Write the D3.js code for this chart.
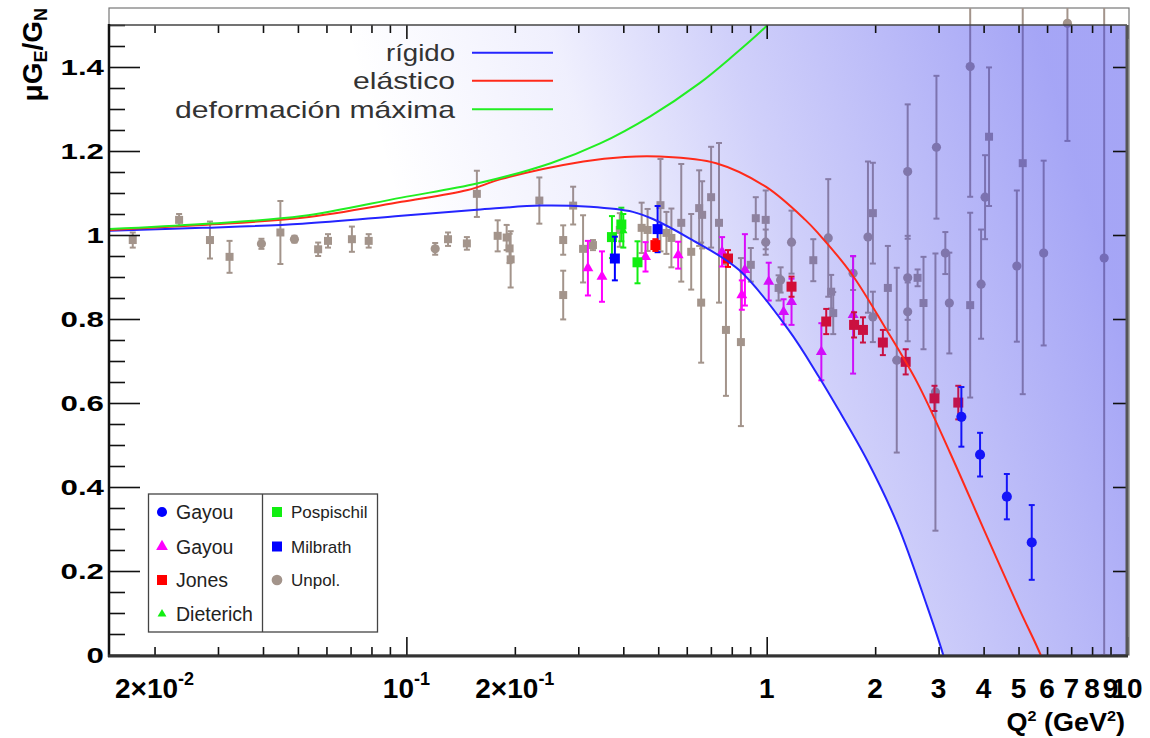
<!DOCTYPE html>
<html><head><meta charset="utf-8">
<script src="https://cdn.jsdelivr.net/npm/d3@7"></script>
<style>body{margin:0;background:#fff}svg{display:block}text{font-family:"Liberation Sans",Arial,sans-serif}</style>
</head><body>
<svg id="c" width="1150" height="738"></svg>
<script>
// ---------------- data ----------------
const xTickValues = [0.02, 0.1, 0.2, 1, 2, 3, 4, 5, 6, 7, 8, 9, 10];
const xTickLabels = ["2×10^-2", "10^-1", "2×10^-1", "1", "2", "3", "4", "5", "6", "7", "8", "9", "10"];
const yTickValues = [0, 0.2, 0.4, 0.6, 0.8, 1.0, 1.2, 1.4];
const yTickLabels = ["0", "0.2", "0.4", "0.6", "0.8", "1", "1.2", "1.4"];

const curveNames = ["rígido", "elástico", "deformación máxima"];
const seriesNames = ["Gayou", "Gayou", "Jones", "Dieterich", "Pospischil", "Milbrath", "Unpol."];

// theory curves [Q2, muGE/GM]
const curveRigido = [[0.0150,1.010],[0.0272,1.017],[0.0514,1.027],[0.0969,1.046],[0.157,1.060],[0.2355,1.070],[0.3234,1.067],[0.425,1.055],[0.483,1.038],[0.610,0.992],[0.837,0.917],[1.15,0.774],[1.39,0.665],[1.58,0.585],[1.91,0.46],[2.31,0.31],[2.79,0.115],[3.09,0.0],[3.25,-0.07]];
const curveElastico = [[0.0150,1.012],[0.0272,1.024],[0.0514,1.041],[0.0969,1.079],[0.148,1.107],[0.183,1.133],[0.310,1.175],[0.404,1.186],[0.504,1.187],[0.724,1.171],[0.994,1.115],[1.28,1.036],[1.39,1.004],[1.715,0.909],[2.127,0.781],[2.62,0.648],[3.23,0.481],[4.01,0.298],[5.04,0.107],[5.76,0.0],[6.1,-0.06]];
const curveDeformacion = [[0.0150,1.014],[0.0272,1.026],[0.0514,1.045],[0.0969,1.089],[0.158,1.123],[0.2515,1.171],[0.345,1.218],[0.474,1.282],[0.650,1.361],[0.802,1.425],[0.994,1.496],[1.08,1.53]];

// data points [Q2, value, error]
const gayouCircles = [[3.47,0.567,0.071],[3.91,0.477,0.052],[4.64,0.377,0.054],[5.44,0.268,0.089]];
const gayouTriangles = [[0.319,0.921,0.065],[0.349,0.901,0.060],[0.461,0.948,0.035],[0.568,0.952,0.032],[0.752,0.960,0.035],[0.870,0.917,0.085],[0.853,0.857,0.035],[1.013,0.889,0.045],[1.114,0.817,0.030],[1.172,0.841,0.055],[1.418,0.722,0.068],[1.737,0.810,0.140]];
const jones = [[0.491,0.976,0.014],[0.781,0.944,0.020],[1.172,0.877,0.024],[1.463,0.794,0.030],[1.748,0.786,0.030],[1.850,0.774,0.030],[2.101,0.744,0.030],[2.431,0.698,0.030],[2.922,0.611,0.030],[3.402,0.601,0.040]];
const dieterich = [[0.40,1.010,0.040]];
const pospischil = [[0.372,0.995,0.050],[0.395,1.025,0.040],[0.438,0.935,0.050]];
const milbrath = [[0.379,0.944,0.052],[0.498,1.014,0.055]];
const unpolSquares = [[0.0174,0.988,0.018],[0.0234,1.036,0.014],[0.0285,0.988,0.044],[0.0323,0.948,0.038],[0.0447,1.006,0.075],[0.0569,0.966,0.016],[0.0606,0.986,0.016],[0.0706,0.990,0.030],[0.0786,0.986,0.016],[0.1305,0.990,0.016],[0.1472,0.980,0.015],[0.1569,1.098,0.055],[0.1792,0.998,0.037],[0.1898,0.994,0.030],[0.1934,0.968,0.035],[0.1947,0.942,0.067],[0.2339,1.082,0.055],[0.2724,0.988,0.035],[0.2724,0.857,0.058],[0.2903,1.070,0.045],[0.3093,0.967,0.080],[0.3295,0.976,0.012],[0.3911,1.012,0.040],[0.4497,1.017,0.060],[0.4671,1.012,0.050],[0.5072,1.071,0.110],[0.5269,1.005,0.050],[0.5439,0.993,0.070],[0.5793,1.029,0.140],[0.6173,0.960,0.090],[0.6495,1.064,0.090],[0.6578,0.839,0.143],[0.6620,1.048,0.080],[0.7010,1.090,0.120],[0.7374,1.029,0.190],[0.7708,0.774,0.157],[0.8481,0.745,0.200],[0.9035,0.929,0.040],[0.9326,1.040,0.050],[0.9937,1.036,0.070],[1.079,0.874,0.030],[1.347,0.940,0.050],[1.510,0.865,0.040],[1.530,0.814,0.050],[1.971,1.052,0.120],[2.169,0.874,0.100],[2.623,0.898,0.020],[2.724,0.838,0.110],[3.671,0.833,0.220],[4.141,1.234,0.165],[5.136,1.171,0.550]];
const unpolCircles = [[0.0396,0.979,0.012],[0.0489,0.990,0.008],[0.1202,0.967,0.014],[0.9937,0.983,0.030],[1.093,0.893,0.030],[1.172,0.983,0.075],[1.482,0.993,0.140],[1.737,0.909,0.040],[1.910,0.995,0.180],[1.971,0.805,0.060],[2.296,0.702,0.220],[2.462,1.151,0.160],[2.462,0.898,0.100],[2.462,0.817,0.070],[2.940,0.626,0.330],[2.959,1.209,0.170],[3.132,0.957,0.050],[3.213,0.838,0.120],[3.671,1.401,0.310],[3.936,0.883,0.130],[4.037,1.090,0.100],[4.946,0.926,0.180],[5.871,0.957,0.220],[6.834,1.504,0.280],[8.643,0.945,0.950]];

// ---------------- layout ----------------
const svg = d3.select("#c");
const L = 109, R = 1127, T = 25, B = 655;
const x = d3.scaleLog().domain([0.01495, 10]).range([L, R]);
const y = d3.scaleLinear().domain([0, 1.5]).range([B, T]);

const defs = svg.append("defs");
defs.append("clipPath").attr("id", "clipFrame").append("rect").attr("x", L).attr("y", T).attr("width", R - L).attr("height", B - T);
defs.append("clipPath").attr("id", "clipData").append("rect").attr("x", L).attr("y", 8).attr("width", R - L).attr("height", B - 8);
const grad = defs.append("linearGradient").attr("id", "shade").attr("gradientUnits", "userSpaceOnUse")
  .attr("x1", 490).attr("y1", 520).attr("x2", 1127).attr("y2", 330);
[[0, 0], [0.3, 0.08], [0.55, 0.24], [1, 0.46]].forEach(([o, a]) =>
  grad.append("stop").attr("offset", o).attr("stop-color", "rgb(60,60,235)").attr("stop-opacity", a));

// outer box
svg.append("rect").attr("x", L).attr("y", 8).attr("width", 1020).attr("height", B - 8)
  .attr("fill", "none").attr("stroke", "#777").attr("stroke-width", 1.2);

// ---------------- data points ----------------
const gData = svg.append("g").attr("clip-path", "url(#clipData)");
const series = [
  {d: unpolSquares, c: "#a3948b", sym: d3.symbolSquare, s: 64},
  {d: unpolCircles, c: "#a3948b", sym: d3.symbolCircle, s: 66},
  {d: gayouTriangles, c: "#ff00ff", sym: d3.symbolTriangle, s: 52},
  {d: pospischil, c: "#11ee11", sym: d3.symbolSquare, s: 100},
  {d: dieterich, c: "#11ee11", sym: d3.symbolTriangle, s: 30},
  {d: milbrath, c: "#0000ff", sym: d3.symbolSquare, s: 100},
  {d: jones, c: "#ff0000", sym: d3.symbolSquare, s: 100},
  {d: gayouCircles, c: "#0000ff", sym: d3.symbolCircle, s: 80}
];
series.forEach(S => {
  const g = gData.append("g");
  S.d.forEach(([q, v, e]) => {
    const px = x(q), y1 = y(v + e), y2 = y(Math.max(v - e, 0));
    g.append("line").attr("x1", px).attr("x2", px).attr("y1", y1).attr("y2", y2).attr("stroke", S.c).attr("stroke-width", 2);
    [y1, y2].forEach(yy => g.append("line").attr("x1", px - 3).attr("x2", px + 3).attr("y1", yy).attr("y2", yy).attr("stroke", S.c).attr("stroke-width", 2));
    g.append("path").attr("d", d3.symbol().type(S.sym).size(S.s)()).attr("transform", `translate(${px},${y(v)})`).attr("fill", S.c);
  });
});

// ---------------- shading (above rigid curve) ----------------
const line = d3.line().x(d => x(d[0])).y(d => y(d[1])).curve(d3.curveCatmullRom.alpha(0.5));
const shadePath = line(curveRigido) + `L${R},${B}L${R},${T}L${L},${T}Z`;
svg.append("path").attr("d", shadePath).attr("fill", "url(#shade)").attr("clip-path", "url(#clipFrame)");

// ---------------- curves ----------------
const gCurves = svg.append("g").attr("clip-path", "url(#clipFrame)");
const curveColors = ["#2424ff", "#ff2a1a", "#22ee22"];
[curveRigido, curveElastico, curveDeformacion].forEach((c, i) =>
  gCurves.append("path").attr("d", line(c)).attr("fill", "none").attr("stroke", curveColors[i]).attr("stroke-width", 2));

// ---------------- axes ----------------
const allX = x.ticks();
const majorX = allX.filter(v => Math.abs(Math.log10(v) - Math.round(Math.log10(v))) < 1e-9);
const minorX = allX.filter(v => !majorX.includes(v));
function ax(gen, vals, size) {
  const g = svg.append("g").call(gen.tickValues(vals).tickSize(size).tickFormat(""));
  g.select(".domain").remove();
  g.selectAll("line").attr("stroke", "#111").attr("stroke-width", 1.6);
  return g;
}
ax(d3.axisBottom(x), minorX, -8).attr("transform", `translate(0,${B})`);
ax(d3.axisBottom(x), majorX, -18).attr("transform", `translate(0,${B})`);
ax(d3.axisTop(x), minorX, -8).attr("transform", `translate(0,${T})`);
ax(d3.axisTop(x), majorX, -14).attr("transform", `translate(0,${T})`);
const minorY = d3.range(0, 1.5001, 0.05).filter(v => Math.abs(v * 5 - Math.round(v * 5)) > 1e-6);
ax(d3.axisLeft(y), yTickValues, -31).attr("transform", `translate(${L},0)`);
ax(d3.axisLeft(y), minorY, -16).attr("transform", `translate(${L},0)`);
ax(d3.axisRight(y), yTickValues, -14).attr("transform", `translate(${R},0)`);

// frame lines
svg.append("line").attr("x1", L).attr("x2", R).attr("y1", T).attr("y2", T).attr("stroke", "#444").attr("stroke-width", 1.5);
svg.append("line").attr("x1", R).attr("x2", R).attr("y1", T).attr("y2", B).attr("stroke", "#555").attr("stroke-width", 3);
svg.append("line").attr("x1", L).attr("x2", L).attr("y1", T - 1).attr("y2", B + 2).attr("stroke", "#111").attr("stroke-width", 2.5);
svg.append("line").attr("x1", L - 1).attr("x2", R + 1).attr("y1", B + 1).attr("y2", B + 1).attr("stroke", "#333").attr("stroke-width", 3);

// y tick labels
yTickValues.forEach((v, i) => {
  svg.append("text").attr("transform", `translate(104,${y(v) + 8}) scale(1.42,1)`)
    .attr("text-anchor", "end").attr("font-size", 22).attr("font-weight", "bold").attr("fill", "#000").text(yTickLabels[i]);
});
// x tick labels
xTickValues.forEach((v, i) => {
  const parts = xTickLabels[i].split("^");
  const t = svg.append("text").attr("transform", `translate(${x(v)},698)`)
    .attr("text-anchor", "middle").attr("font-size", 28).attr("font-weight", "bold").attr("fill", "#000");
  t.append("tspan").text(parts[0]);
  if (parts[1]) t.append("tspan").attr("font-size", 18).attr("dy", -13).text(parts[1]);
});
// axis titles
const xt = svg.append("text").attr("transform", "translate(1125,731) scale(1.08,1)").attr("text-anchor", "end")
  .attr("font-size", 25).attr("font-weight", "bold").attr("fill", "#000");
xt.append("tspan").text("Q");
xt.append("tspan").attr("font-size", 15).attr("dy", -10).text("2");
xt.append("tspan").attr("dy", 10).text(" (GeV");
xt.append("tspan").attr("font-size", 15).attr("dy", -10).text("2");
xt.append("tspan").attr("dy", 10).text(")");

const yt = svg.append("text").attr("transform", "translate(42,8) rotate(-90)").attr("text-anchor", "end")
  .attr("font-size", 28).attr("font-weight", "bold").attr("fill", "#000");
yt.append("tspan").text("μG");
yt.append("tspan").attr("font-size", 18).attr("dy", 5).text("E");
yt.append("tspan").attr("dy", -5).text("/G");
yt.append("tspan").attr("font-size", 18).attr("dy", 5).text("N");

// ---------------- top legend ----------------
const legY = [52.7, 80.8, 109.3];
const legW = [69, 102, 280];
curveNames.forEach((n, i) => {
  svg.append("text").attr("x", 455).attr("y", legY[i] + 8.5).attr("text-anchor", "end")
    .attr("font-size", 24).attr("fill", "#333").attr("textLength", legW[i]).attr("lengthAdjust", "spacingAndGlyphs").text(n);
  svg.append("line").attr("x1", 472).attr("x2", 553).attr("y1", legY[i]).attr("y2", legY[i])
    .attr("stroke", curveColors[i]).attr("stroke-width", 2);
});

// ---------------- series legend ----------------
const lg = svg.append("g");
lg.append("rect").attr("x", 148.5).attr("y", 494).attr("width", 229).attr("height", 138)
  .attr("fill", "#fff").attr("stroke", "#444").attr("stroke-width", 1.3);
lg.append("line").attr("x1", 262.5).attr("x2", 262.5).attr("y1", 494).attr("y2", 632).attr("stroke", "#444").attr("stroke-width", 1.3);
const legItems = [
  {c: "#0000ff", sym: d3.symbolCircle, s: 80, col: 0, row: 0},
  {c: "#ff00ff", sym: d3.symbolTriangle, s: 60, col: 0, row: 1},
  {c: "#ff0000", sym: d3.symbolSquare, s: 100, col: 0, row: 2},
  {c: "#11ee11", sym: d3.symbolTriangle, s: 34, col: 0, row: 3},
  {c: "#11ee11", sym: d3.symbolSquare, s: 100, col: 1, row: 0},
  {c: "#0000ff", sym: d3.symbolSquare, s: 100, col: 1, row: 1},
  {c: "#a3948b", sym: d3.symbolCircle, s: 90, col: 1, row: 2}
];
const rowY = [512, 546.5, 580, 614];
legItems.forEach((it, i) => {
  const mx = it.col ? 277 : 162, tx = it.col ? 291 : 176;
  lg.append("path").attr("d", d3.symbol().type(it.sym).size(it.s)()).attr("transform", `translate(${mx},${rowY[it.row]})`).attr("fill", it.c);
  lg.append("text").attr("x", tx).attr("y", rowY[it.row] + (it.col ? 6 : 7)).attr("font-size", it.col ? 17 : 19.5)
    .attr("fill", "#222").text(seriesNames[i]);
});
</script>
</body></html>
